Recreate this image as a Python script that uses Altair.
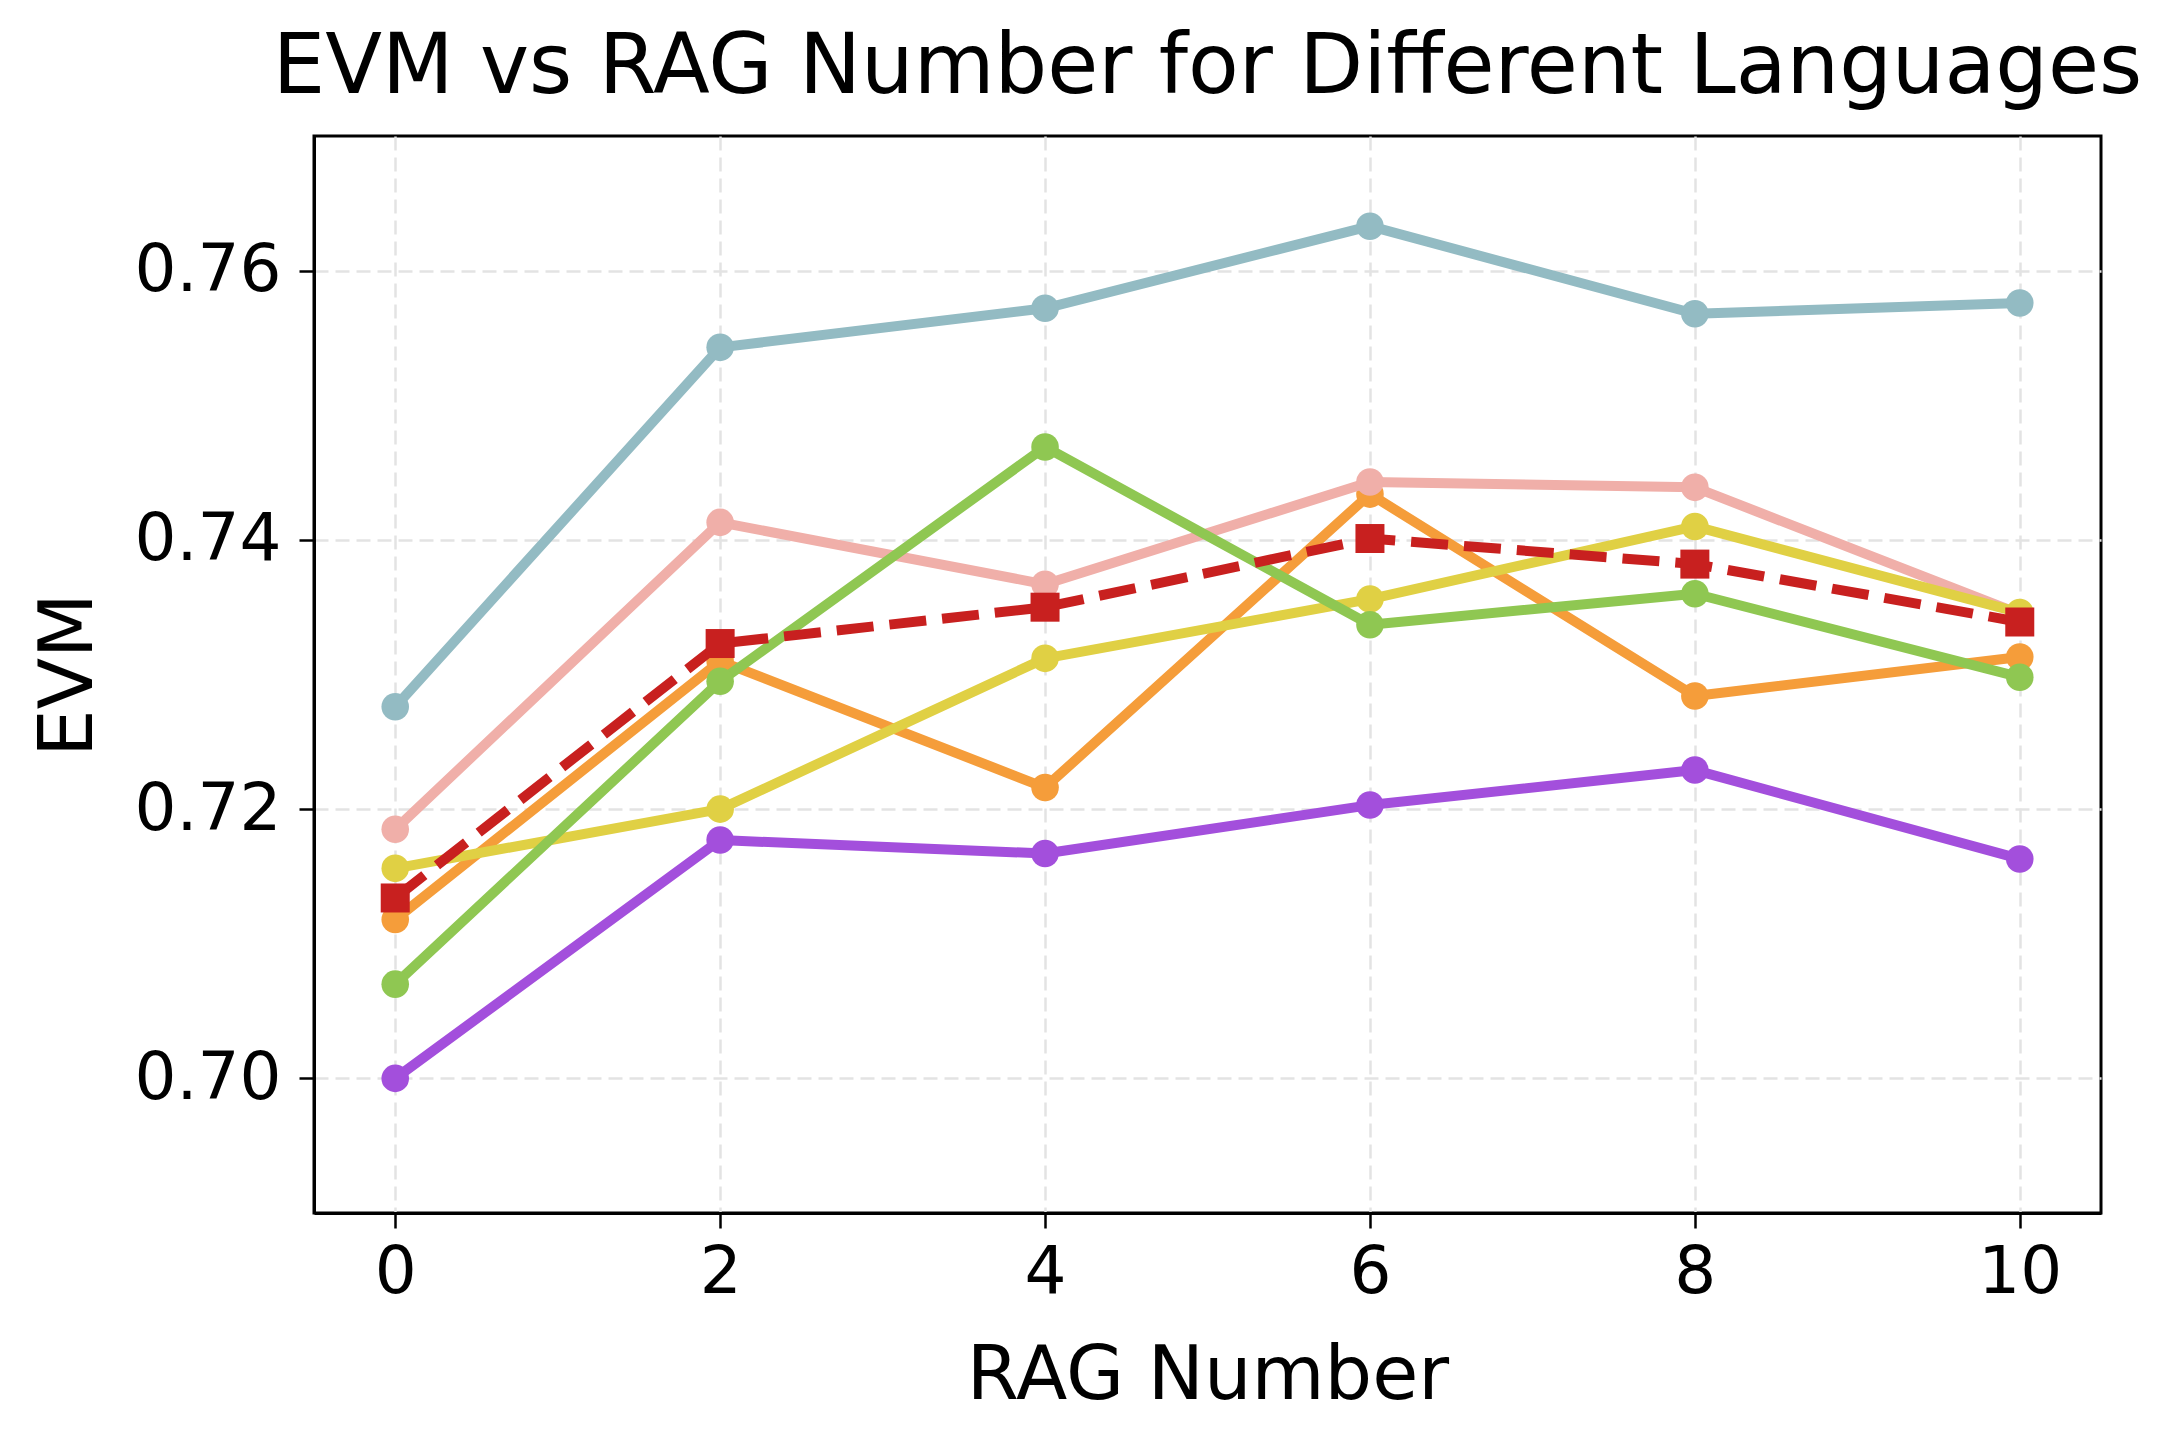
import altair as alt
import pandas as pd

rag = [0, 2, 4, 6, 8, 10]

# series values (draw order)
teal = [0.7276, 0.7543, 0.7572, 0.7633, 0.7568, 0.7576]
orange = [0.7118, 0.7310, 0.7216, 0.7434, 0.7284, 0.7313]
pink = [0.7185, 0.7413, 0.7367, 0.7443, 0.7439, 0.7345]
yellow = [0.7156, 0.7200, 0.7312, 0.7356, 0.7410, 0.7346]
green = [0.7070, 0.7295, 0.7469, 0.7337, 0.7360, 0.7298]
purple = [0.7000, 0.7177, 0.7167, 0.7203, 0.7229, 0.7163]
average = [0.7134, 0.7323, 0.7350, 0.7401, 0.7382, 0.7339]

series = [
    ("Language 1", teal, "#93BBC3"),
    ("Language 2", orange, "#F59D3A"),
    ("Language 3", pink, "#F0AFA9"),
    ("Language 4", yellow, "#E0D044"),
    ("Language 5", green, "#8FC752"),
    ("Language 6", purple, "#A34FDC"),
]

x_enc = alt.X("rag:Q", title="RAG Number",
              scale=alt.Scale(domain=[-0.5, 10.5], nice=False, zero=False),
              axis=alt.Axis(values=[0, 2, 4, 6, 8, 10], format="d",
                            labelPadding=12, titlePadding=34))
y_enc = alt.Y("evm:Q", title="EVM",
              scale=alt.Scale(domain=[0.69, 0.77], nice=False, zero=False),
              axis=alt.Axis(values=[0.70, 0.72, 0.74, 0.76], format=".2f",
                            labelPadding=18, titlePadding=27))

layers = []
for name, vals, col in series:
    df = pd.DataFrame({"rag": rag, "evm": vals, "series": name})
    layers.append(
        alt.Chart(df).mark_line(
            color=col, strokeWidth=10, strokeJoin="round",
            point=alt.OverlayMarkDef(filled=True, color=col, size=760, opacity=1),
        ).encode(x=x_enc, y=y_enc)
    )

df_avg = pd.DataFrame({"rag": rag, "evm": average, "series": "Average"})
layers.append(
    alt.Chart(df_avg).mark_line(
        color="#C8201F", strokeWidth=10, strokeDash=[37, 16],
        point=alt.OverlayMarkDef(filled=True, color="#C8201F", shape="square",
                                 size=841, opacity=1),
    ).encode(x=x_enc, y=y_enc)
)

chart = alt.layer(*layers).properties(
    width=1787,
    height=1077,
    autosize=alt.AutoSizeParams(type="none"),
    padding={"left": 306, "top": 128, "right": 66, "bottom": 210},
    title=alt.TitleParams("EVM vs RAG Number for Different Languages",
                          fontSize=83, font="DejaVu Sans", fontWeight="normal",
                          color="black", anchor="middle", offset=26),
).configure_view(
    stroke="black", strokeWidth=3
).configure_axis(
    labelFont="DejaVu Sans", titleFont="DejaVu Sans",
    labelFontSize=66, titleFontSize=75, titleFontWeight="normal",
    labelColor="black", titleColor="black",
    tickColor="black", tickSize=15, tickWidth=2.5,
    domainColor="black", domainWidth=3,
    grid=True, gridColor="#e3e3e3", gridDash=[14, 7], gridWidth=2.5,
)

chart.save("out.html", embed_options={"renderer": "svg", "actions": False})
